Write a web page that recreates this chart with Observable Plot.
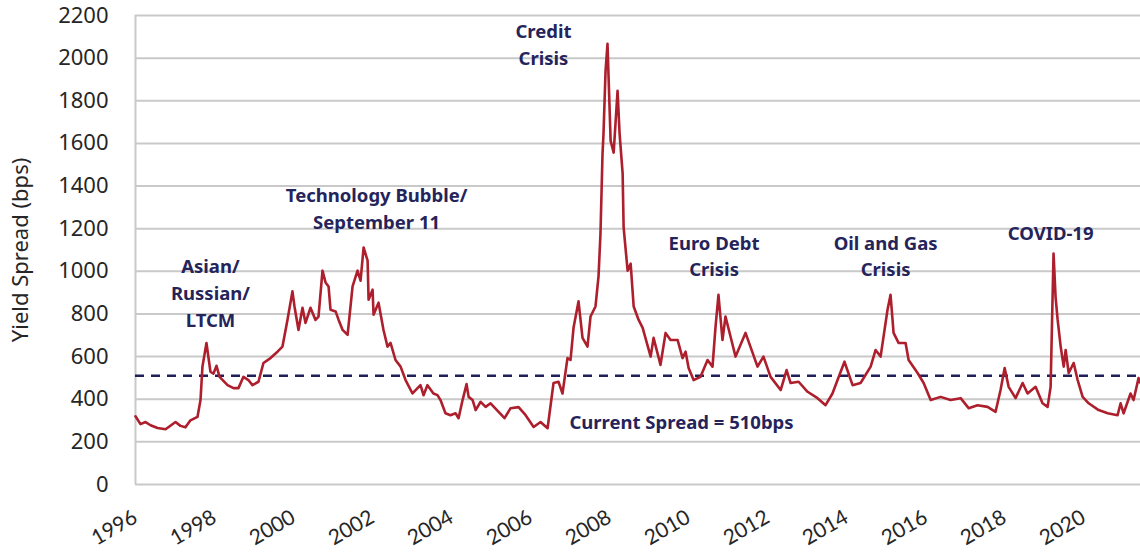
<!DOCTYPE html>
<html><head><meta charset="utf-8">
<script src="https://cdn.jsdelivr.net/npm/d3@7"></script>
<script src="https://cdn.jsdelivr.net/npm/@observablehq/plot@0.6"></script>
<style>
html,body{margin:0;padding:0;background:#fff;}
#chart svg{display:block;}
</style></head><body><div id="chart"></div>
<script>
// High-yield spread over Treasuries (bps)
const dates = [
"1996-12-31","1997-02-15","1997-04-03","1997-05-19","1997-07-23","1997-10-05","1998-01-05","1998-02-20","1998-04-07","1998-05-23",
"1998-07-27","1998-08-24","1998-09-11","1998-10-18","1998-11-24","1998-12-22","1999-01-19","1999-02-16","1999-05-01","1999-06-25",
"1999-08-10","1999-09-25","1999-11-10","1999-12-17","2000-02-11","2000-03-28","2000-06-01","2000-08-05","2000-09-20","2000-11-05",
"2000-12-21","2001-01-09","2001-02-15","2001-03-24","2001-04-21","2001-06-06","2001-07-22","2001-08-19","2001-09-25","2001-10-23",
"2001-11-20","2001-12-08","2002-01-24","2002-02-21","2002-03-30","2002-05-15","2002-06-30","2002-08-15","2002-09-12","2002-10-10",
"2002-11-16","2002-11-25","2003-01-01","2003-01-10","2003-02-25","2003-04-12","2003-05-19","2003-06-16","2003-08-01","2003-09-17",
"2003-11-02","2004-01-05","2004-03-19","2004-04-16","2004-05-22","2004-07-17","2004-08-23","2004-09-20","2004-11-05","2004-12-21",
"2005-02-06","2005-03-06","2005-04-12","2005-05-19","2005-06-07","2005-07-14","2005-08-11","2005-09-26","2005-11-11","2005-12-27",
"2006-03-11","2006-05-05","2006-06-30","2006-09-12","2006-11-16","2007-01-29","2007-04-03","2007-06-07","2007-08-01","2007-09-16",
"2007-10-23","2007-12-08","2008-01-05","2008-02-02","2008-03-19","2008-04-25","2008-06-10","2008-07-08","2008-08-23","2008-09-20",
"2008-10-08","2008-10-27","2008-11-05","2008-11-24","2008-12-12","2009-01-10","2009-02-07","2009-03-15","2009-04-03","2009-05-01",
"2009-05-10","2009-06-16","2009-07-14","2009-08-11","2009-09-26","2009-11-02","2010-01-15","2010-02-11","2010-04-16","2010-06-02",
"2010-07-18","2010-09-21","2010-11-06","2010-12-04","2011-01-01","2011-02-16","2011-04-21","2011-06-25","2011-08-10","2011-09-07",
"2011-10-04","2011-11-10","2011-12-08","2012-03-10","2012-06-10","2012-09-29","2012-11-23","2013-01-28","2013-05-01","2013-06-25",
"2013-08-01","2013-10-14","2014-01-05","2014-04-07","2014-06-20","2014-08-23","2014-10-09","2014-12-12","2015-02-25","2015-05-10",
"2015-08-11","2015-09-26","2015-11-11","2016-01-14","2016-02-11","2016-03-10","2016-04-25","2016-06-29","2016-07-27","2016-10-18",
"2016-12-13","2017-02-16","2017-05-19","2017-08-19","2017-11-20","2018-02-02","2018-04-25","2018-07-27","2018-10-09","2018-11-24",
"2019-01-01","2019-02-07","2019-04-12","2019-06-16","2019-08-01","2019-10-14","2019-12-17","2020-02-02","2020-03-01","2020-03-28",
"2020-04-16","2020-05-05","2020-06-02","2020-06-30","2020-07-18","2020-08-15","2020-09-30","2020-11-06","2020-12-22","2021-02-16",
"2021-05-19","2021-08-11","2021-11-10","2021-12-08","2022-01-05","2022-03-10","2022-04-07","2022-05-23","2022-06-10"
];
const spreads = [
320,283,293,278,265,259,293,275,268,301,
317,396,553,664,529,520,557,505,466,452,
452,505,490,466,482,570,593,623,647,772,
906,835,725,829,758,829,772,788,1003,948,
929,820,812,772,725,702,929,1003,956,1112,
1050,867,914,796,853,725,647,664,584,553,
490,427,466,419,466,427,419,396,334,325,
334,311,396,471,411,396,349,388,364,381,
341,311,358,363,325,270,293,264,476,482,
427,593,584,735,859,688,647,788,835,976,
1176,1551,1645,1940,2067,1612,1557,1847,1645,1458,
1206,1003,1036,835,772,735,600,688,561,711,
678,678,593,623,546,490,505,584,553,741,
890,678,788,600,711,553,600,505,443,537,
476,482,435,405,372,427,490,576,466,476,
553,631,600,820,890,711,664,664,584,523,
476,396,411,396,405,358,372,364,341,443,
546,458,405,476,427,458,381,364,458,1083,
878,772,647,553,631,523,570,490,411,381,
349,334,325,381,334,427,396,499,476
];
const currentSpread = 510;
const yTicks = [0,200,400,600,800,1000,1200,1400,1600,1800,2000,2200];
const xTickDates = ["1996-12-31","1998-12-31","2000-12-31","2002-12-31","2004-12-31","2006-12-31","2008-12-31","2010-12-31","2012-12-31","2014-12-31","2016-12-31","2018-12-31","2020-12-31"];
const yLabel = "Yield Spread (bps)";
// Event annotations, anchored at a date and a spread level
const noteTexts = ["Asian/\nRussian/\nLTCM","Technology Bubble/\nSeptember 11","Credit\nCrisis","Euro Debt\nCrisis","Oil and Gas\nCrisis","COVID-19","Current Spread = 510bps"];
const noteDates = ["1998-11-24","2003-02-07","2007-04-30","2011-08-24","2015-12-27","2020-03-01","2010-10-27"];
const noteValues = [907,1301,2072,1079,1079,1189,301];

const parse = d3.utcParse("%Y-%m-%d");
const series = dates.map((d, i) => ({date: parse(d), value: spreads[i]}));
const notes = noteTexts.map((t, i) => ({text: t, date: parse(noteDates[i]), value: noteValues[i]}));
const xTicks = xTickDates.map(parse);

const chart = Plot.plot({
  width: 1140,
  height: 552,
  marginLeft: 135,
  marginRight: 0,
  marginTop: 15,
  marginBottom: 68,
  style: {fontFamily: "'Noto Sans', sans-serif", background: "#ffffff", color: "#262626"},
  x: {type: "utc", domain: d3.extent(series, d => d.date)},
  y: {domain: [0, 2200]},
  marks: [
    Plot.gridY(yTicks, {stroke: "#c9c9c9", strokeOpacity: 1, strokeWidth: 2}),
    Plot.ruleX([series[0].date], {stroke: "#c9c9c9", strokeWidth: 2, y1: 0, y2: 2200}),
    Plot.axisY(yTicks, {tickSize: 0, tickPadding: 27, fontSize: 22, tickFormat: d3.format("d"), label: yLabel, labelAnchor: "center", labelOffset: 123, labelArrow: "none"}),
    Plot.axisX(xTicks, {tickSize: 0, tickPadding: 31, tickRotate: -30, fontSize: 21, fontFamily: "Lato, sans-serif", tickFormat: d3.utcFormat("%Y"), label: null}),
    Plot.ruleY([currentSpread], {stroke: "#1f1f5a", strokeWidth: 2.5, strokeDasharray: "9,7"}),
    Plot.line(series, {x: "date", y: "value", stroke: "#ad1f2d", strokeWidth: 2.6}),
    Plot.text(notes, {x: "date", y: "value", text: "text", fontSize: 18.5, fontWeight: 700, fill: "#25245a", lineHeight: 1.45, lineAnchor: "middle"})
  ]
});
document.getElementById("chart").append(chart);
</script>
</body></html>
